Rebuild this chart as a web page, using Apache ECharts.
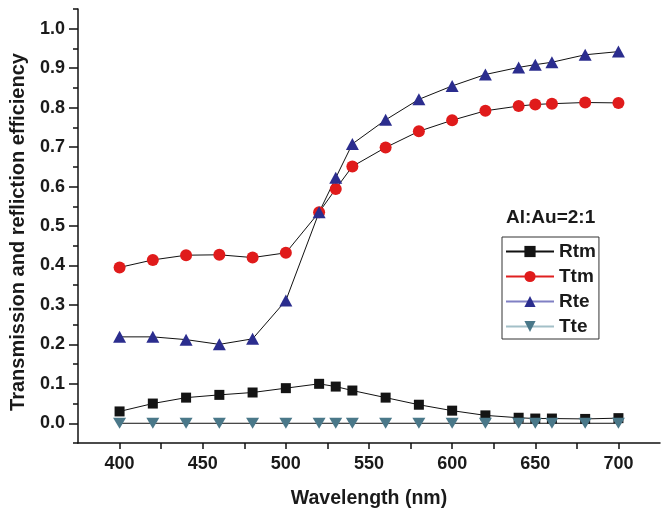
<!DOCTYPE html>
<html>
<head>
<meta charset="utf-8">
<title>Al:Au=2:1</title>
<script src="https://cdn.jsdelivr.net/npm/echarts@6/dist/echarts.min.js"></script>
<style>
    html, body { margin: 0; padding: 0; background: #fff; }
    #chart { width: 669px; height: 514px; }
</style>
</head>
<body>
<div id="chart"></div>
<script>
    // wavelength (nm)
    const wavelength = [400, 420, 440, 460, 480, 500, 520, 530, 540, 560, 580, 600, 620, 640, 650, 660, 680, 700];
    const rtm = [0.030, 0.050, 0.065, 0.072, 0.078, 0.089, 0.100, 0.093, 0.083, 0.065, 0.047, 0.032, 0.020, 0.014, 0.012, 0.012, 0.011, 0.013];
    const ttm = [0.395, 0.414, 0.426, 0.427, 0.420, 0.432, 0.535, 0.594, 0.651, 0.699, 0.740, 0.768, 0.792, 0.804, 0.808, 0.810, 0.813, 0.812];
    const rte = [0.219, 0.219, 0.212, 0.200, 0.214, 0.311, 0.535, 0.622, 0.708, 0.769, 0.821, 0.855, 0.884, 0.902, 0.909, 0.915, 0.934, 0.942];
    const tte = [0, 0, 0, 0, 0, 0, 0, 0, 0, 0, 0, 0, 0, 0, 0, 0, 0, 0];
    const yTicks = [0, 0.1, 0.2, 0.3, 0.4, 0.5, 0.6, 0.7, 0.8, 0.9, 1.0];

    const font = 'Arial, "Liberation Sans", Helvetica, sans-serif';

    function pairs (ys) {
        return wavelength.map((x, i) => [x, ys[i]]);
    }

    function makeSeries (name, ys, symbol, size, color, rotate) {
        return {
            name: name,
            type: 'line',
            data: pairs(ys),
            symbol: symbol,
            symbolSize: size,
            symbolRotate: rotate || 0,
            showAllSymbol: true,
            itemStyle: { color: color, opacity: 1 },
            lineStyle: { color: '#111', width: 1 },
            emphasis: { disabled: true },
            z: 3
        };
    }

    const chart = echarts.init(document.getElementById('chart'), null, { renderer: 'canvas' });

    const opt = {
        backgroundColor: '#fff',
        animation: false,
        textStyle: { fontFamily: font },
        title: {
            text: 'Al:Au=2:1',
            left: 506,
            top: 208,
            padding: 0,
            textStyle: { fontFamily: font, fontSize: 19, fontWeight: 'bold', color: '#1a1a1a' }
        },
        legend: {
            orient: 'vertical',
            left: 502,
            top: 237,
            padding: [5, 3, 3, 3],
            itemWidth: 48,
            itemHeight: 14,
            itemGap: 6,
            borderColor: '#333',
            borderWidth: 1,
            borderRadius: 0,
            textStyle: { fontFamily: font, fontSize: 19, fontWeight: 'bold', color: '#1a1a1a', lineHeight: 19 },
            data: [
                { name: 'Rtm', lineStyle: { color: '#111' } },
                { name: 'Ttm', lineStyle: { color: '#e02020' } },
                { name: 'Rte', lineStyle: { color: '#8080c4' } },
                { name: 'Tte', lineStyle: { color: '#a3c0c8' } }
            ]
        },
        grid: {
            left: 76,
            right: 9,
            top: 9,
            bottom: 70,
            containLabel: false
        },
        xAxis: {
            type: 'value',
            min: 375,
            max: 725,
            interval: 25,
            name: 'Wavelength (nm)',
            nameLocation: 'middle',
            nameGap: 46,
            nameTextStyle: { fontFamily: font, fontSize: 19.5, fontWeight: 'bold', color: '#1a1a1a' },
            axisLine: { show: true, onZero: false, lineStyle: { color: '#111', width: 1.5 } },
            axisTick: { show: true, length: 6, lineStyle: { color: '#111', width: 1.5 } },
            axisLabel: {
                margin: 12,
                fontFamily: font,
                fontSize: 18,
                fontWeight: 'bold',
                color: '#1a1a1a',
                showMinLabel: false,
                showMaxLabel: false,
                formatter: function (v) {
                    return v % 50 === 0 ? String(v) : '';
                }
            },
            splitLine: { show: false }
        },
        yAxis: [
            {
                type: 'value',
                min: -0.05,
                max: 1.05,
                name: 'Transmission and refliction efficiency',
                nameLocation: 'middle',
                nameRotate: 90,
                nameGap: 50,
                nameTextStyle: { fontFamily: font, fontSize: 20, fontWeight: 'bold', color: '#1a1a1a', padding: [0, 12, 0, 0] },
                axisLine: { show: true, onZero: false, lineStyle: { color: '#111', width: 1.5 } },
                axisTick: { show: true, length: 9, customValues: yTicks, lineStyle: { color: '#111', width: 1.5 } },
                axisLabel: {
                    margin: 13,
                    fontFamily: font,
                    fontSize: 18,
                    fontWeight: 'bold',
                    color: '#1a1a1a',
                    customValues: yTicks,
                    formatter: function (v) {
                        return v.toFixed(1);
                    }
                },
                splitLine: { show: false }
            },
            {
                // minor ticks every 0.05
                type: 'value',
                position: 'left',
                min: -0.05,
                max: 1.05,
                interval: 0.05,
                axisLine: { show: false },
                axisTick: { show: true, length: 5, lineStyle: { color: '#111', width: 1.5 } },
                axisLabel: { show: false },
                splitLine: { show: false }
            }
        ],
        series: [
            makeSeries('Rtm', rtm, 'rect', 10, '#141414'),
            makeSeries('Ttm', ttm, 'circle', 12, '#e01b1b'),
            makeSeries('Rte', rte, 'triangle', [13, 12], '#2b2d8e'),
            makeSeries('Tte', tte, 'triangle', [13, 11], '#4a7889', 180)
        ]
    };

    chart.setOption(opt);
</script>
</body>
</html>
